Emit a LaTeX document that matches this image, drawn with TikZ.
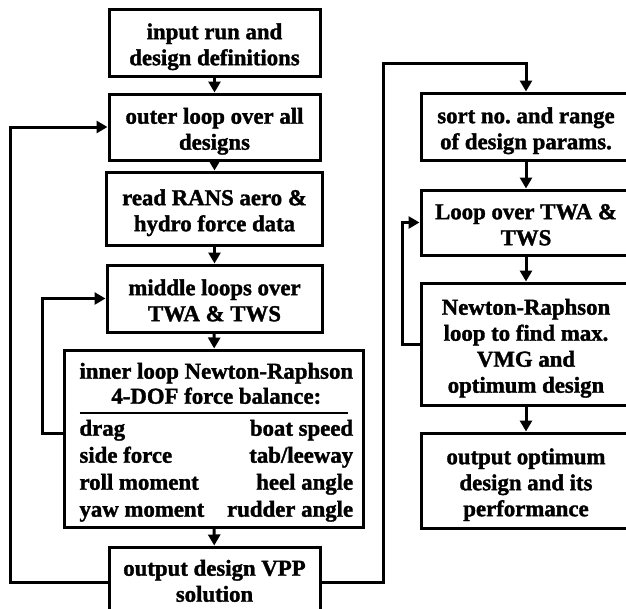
\documentclass[tikz,border=0pt]{standalone}
\usepackage{fontspec}
\setmainfont[BoldFeatures={FakeBold=1.5}]{Liberation Serif}
\usetikzlibrary{arrows.meta}
\setlength\arrayrulewidth{2pt}
\frenchspacing

% block text, set a little below the middle of its box
\newcommand\lowtxt[2][4.5pt]{\raisebox{-#1}[\height][\depth]{\begin{tabular}{@{}c@{}}#2\end{tabular}}}

\tikzset{
  blk/.style={draw, line width=3pt, inner sep=0pt,
    font=\fontsize{22.8}{26}\selectfont\bfseries},
  arr/.style={line width=3pt, -{Triangle[length=11pt,width=12pt]}}
}

\begin{document}
\begin{tikzpicture}[x=1pt, y=-1pt]
    \useasboundingbox (0,0) rectangle (626,608);
    \clip (0,0) rectangle (626,608);

    % Left column: VPP over all designs
    \node[blk, minimum width=211pt, minimum height=67pt] (in) at (214.5,42.5) {\lowtxt{input run and\\design definitions}};
    \node[blk, minimum width=211pt, minimum height=66pt] (outer) at (214.5,127) {\lowtxt{outer loop over all\\designs}};
    \node[blk, minimum width=216pt, minimum height=73pt] (rans) at (214.5,208.5) {\lowtxt{read RANS aero \&\\hydro force data}};
    \node[blk, minimum width=215pt, minimum height=67pt] (mid) at (214.5,298.5) {\lowtxt{middle loops over\\TWA \& TWS}};
    \node[blk, minimum width=299pt, minimum height=177pt] (inner) at (213.5,438.5) {%
      \raisebox{-4pt}[\height][\depth]{%
      \begin{tabular*}{268pt}{@{}l@{\extracolsep{\fill}}r@{}}
        \multicolumn{2}{@{}c@{}}{inner loop Newton-Raphson}\\[-1pt]
        \multicolumn{2}{@{}c@{}}{4-DOF force balance:}\\
        \hline
        \noalign{\vskip 4pt}
        drag & boat speed\\[1pt]
        side force & tab/leeway\\[1pt]
        roll moment & heel angle\\[1pt]
        yaw moment & rudder angle
      \end{tabular*}}};
    \node[blk, minimum width=211pt, minimum height=70pt] (vpp) at (214.5,582) {\lowtxt[1.5pt]{output design VPP\\solution}};

    % Right column: optimum design
    \node[blk, minimum width=210pt, minimum height=67pt] (sort) at (526,126.5) {\lowtxt{sort no. and range\\of design params.}};
    \node[blk, minimum width=210pt, minimum height=65pt] (twa) at (526,222.5) {\lowtxt{Loop over TWA \&\\TWS}};
    \node[blk, minimum width=210pt, minimum height=122pt] (nr) at (526,344) {\lowtxt{Newton-Raphson\\loop to find max.\\VMG and\\optimum design}};
    \node[blk, minimum width=210pt, minimum height=95pt] (opt) at (526,480.5) {\lowtxt{output optimum\\design and its\\performance}};

    % straight arrows
    \draw[arr] (in) -- (outer);
    \draw[arr] (outer) -- (rans);
    \draw[arr] (rans) -- (mid);
    \draw[arr] (mid) -- (inner);
    \draw[arr] (inner) -- (vpp);
    \draw[arr] (sort) -- (twa);
    \draw[arr] (twa) -- (nr);
    \draw[arr] (nr) -- (opt);

    % loops
    \draw[arr] (vpp.west) -| (10,127) -- (outer.west);
    \draw[arr] ([yshift=5.5pt]inner.west) -| (42,298.5) -- (mid.west);
    \draw[arr] (nr.west) -| (402,222.5) -- (twa.west);
    \coordinate (turn) at (383,63);
    \draw[arr] (vpp.east) -| (turn) -| (sort.north);
\end{tikzpicture}
\end{document}
